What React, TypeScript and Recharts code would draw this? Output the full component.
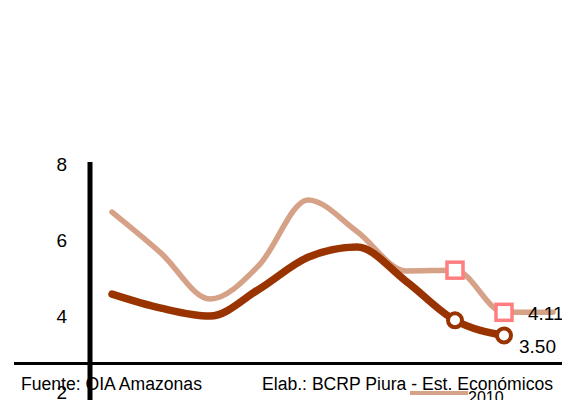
import { LineChart, Line, XAxis, YAxis, ReferenceLine, Legend, LabelList } from 'recharts';

// periodos (eje X oculto en el original)
const periods = ['1', '2', '3', '4', '5', '6', '7', '8', '9', '10'];
const values2010 = [6.75, 5.67, 4.46, 5.35, 7.07, 6.24, 5.2, 5.22, 4.11, 4.11];
const valuesActual = [4.59, 4.22, 4.01, 4.72, 5.56, 5.83, 4.93, 3.9, 3.5, null];
const yTicks = [2, 4, 6, 8];
const axisCross = 2.76;
const markedIndexes = [7, 8];
const labelIndex = 8;
const legendLabel = '2010';
const sourceText = 'Fuente: OIA Amazonas';
const creditText = 'Elab.: BCRP Piura - Est. Económicos';

const data = periods.map((p, i) => ({
    period: p,
    y2010: values2010[i],
    actual: valuesActual[i],
}));

const FONT = "Arial, 'Liberation Sans', sans-serif";
const LIGHT = '#D6A287';
const DARK = '#993300';
const PINK = '#FF7F80';

const squareDot = (props: any) => {
    const { cx, cy, index } = props;
    if (!markedIndexes.includes(index) || cx == null || cy == null) return <g key={`s${index}`} />;
    return (
        <rect key={`s${index}`} x={cx - 8} y={cy - 8} width={16} height={16}
            fill="#fff" stroke={PINK} strokeWidth={3.5} />
    );
};

const circleDot = (props: any) => {
    const { cx, cy, index } = props;
    if (!markedIndexes.includes(index) || cx == null || cy == null) return <g key={`c${index}`} />;
    return <circle key={`c${index}`} cx={cx} cy={cy} r={7} fill="#fff" stroke={DARK} strokeWidth={4} />;
};

const makeLabel = (dx: number, dy: number, digits: number) => (props: any) => {
    const { x, y, value, index } = props;
    if (index !== labelIndex || value == null) return null;
    return (
        <text x={x + dx} y={y + dy} dominantBaseline="central" fontSize={19} fill="#000" fontFamily={FONT}>
            {Number(value).toFixed(digits)}
        </text>
    );
};

const renderLegend = () => (
    <svg width={110} height={16} style={{ overflow: 'visible', display: 'block' }}>
        <line x1={0} x2={58} y1={5} y2={5} stroke={LIGHT} strokeWidth={4} />
        <text x={58} y={15} fontSize={16} fill="#000" fontFamily={FONT}>{legendLabel}</text>
    </svg>
);

export default function App() {
    return (
        <div style={{ position: 'absolute', left: 0, top: 0, width: 562, height: 400, overflow: 'hidden', background: '#fff', fontFamily: FONT }}>
            <LineChart width={562} height={400} data={data} margin={{ top: 162, right: 9, bottom: 0, left: 0 }}>
                <XAxis dataKey="period" hide padding={{ left: 22, right: 0 }} />
                <YAxis
                    width={90}
                    domain={[1.8, 8.07]}
                    allowDataOverflow
                    ticks={yTicks}
                    interval={0}
                    tickLine={false}
                    tickSize={6}
                    tickMargin={17}
                    axisLine={{ stroke: '#000', strokeWidth: 5 }}
                    tick={{ fontSize: 19, fill: '#000', fontFamily: FONT }}
                />
                <ReferenceLine
                    y={axisCross}
                    ifOverflow="visible"
                    shape={(p: any) => (
                        <line x1={p.x1 - 76} x2={p.x2 + 9} y1={p.y1} y2={p.y2} stroke="#000" strokeWidth={3} />
                    )}
                />
                <Legend
                    layout="horizontal"
                    verticalAlign="middle"
                    align="center"
                    wrapperStyle={{ left: 410, top: 388, width: 'auto' }}
                    content={renderLegend}
                />
                <Line
                    type="monotone"
                    dataKey="y2010"
                    name={legendLabel}
                    stroke={LIGHT}
                    strokeWidth={5.5}
                    strokeLinecap="round"
                    dot={squareDot}
                    activeDot={false}
                    isAnimationActive={false}
                >
                    <LabelList dataKey="y2010" content={makeLabel(24, 1, 2)} />
                </Line>
                <Line
                    type="monotone"
                    dataKey="actual"
                    name="actual"
                    stroke={DARK}
                    strokeWidth={7.5}
                    strokeLinecap="round"
                    dot={circleDot}
                    activeDot={false}
                    isAnimationActive={false}
                    legendType="none"
                >
                    <LabelList dataKey="actual" content={makeLabel(15, 11, 2)} />
                </Line>
            </LineChart>
            <div style={{ position: 'absolute', left: 21, top: 376, fontSize: 17.6, lineHeight: 1, whiteSpace: 'nowrap' }}>{sourceText}</div>
            <div style={{ position: 'absolute', left: 262, top: 376, fontSize: 17.6, lineHeight: 1, whiteSpace: 'nowrap' }}>{creditText}</div>
        </div>
    );
}
